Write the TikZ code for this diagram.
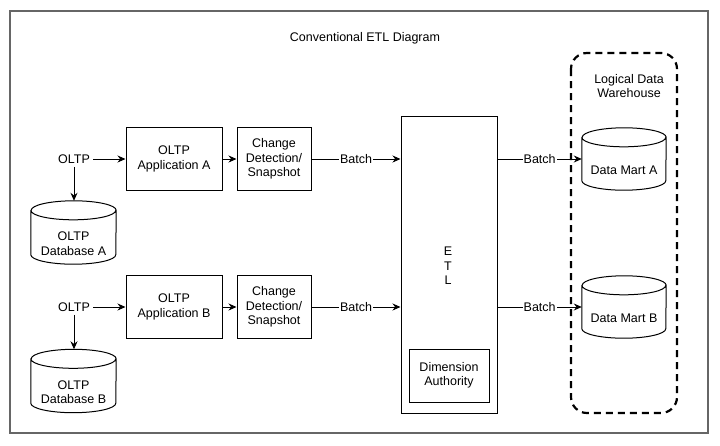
\documentclass[tikz,border=0pt]{standalone}
\usepackage{fontspec}
\setmainfont{Liberation Sans}
\usetikzlibrary{arrows.meta,positioning}

% cylinder outline round an (undrawn) rectangle node
\newcommand{\drawdb}[1]{%
  \draw[line width=1pt, fill=white]
    ([yshift=-9.5pt]#1.north west) -- ([yshift=9.5pt]#1.south west)
    arc[start angle=180, end angle=360, x radius=0.5*\dbw, y radius=9.5pt]
    -- ([yshift=-9.5pt]#1.north east)
    arc[start angle=0, end angle=180, x radius=0.5*\dbw, y radius=9.5pt] -- cycle
    ([yshift=-9.5pt]#1.north west)
    arc[start angle=180, end angle=360, x radius=0.5*\dbw, y radius=9.5pt];}
\newlength{\dbw}

\begin{document}
\begin{tikzpicture}[x=1pt, y=-1pt,
    font=\fontsize{12.5}{14.5}\selectfont,
    box/.style={draw, rectangle, line width=1pt, align=center, inner sep=2pt},
    db/.style={rectangle, minimum width=85pt, minimum height=63pt, inner sep=0pt},
    dbtext/.style={align=center, inner sep=0pt},
    arrow/.style={-{Stealth[length=8pt, width=7pt]}, line width=1pt},
    batch/.style={fill=white, inner sep=1pt}
]
    \useasboundingbox (0,0) rectangle (720,445);
    \draw[black!60, line width=1.5pt] (10,11) rectangle (708,433);
    \node (title) at (365,38) {Conventional ETL Diagram};

    % sources
    \setlength{\dbw}{85pt}
    \node (oltp_a) at (74,159) {OLTP};
    \node[box, minimum width=96pt, minimum height=63pt] (app_a) at (174,159) {OLTP\\Application A};
    \node[box, minimum width=74pt, minimum height=63pt] (cd_a) at (274,159) {Change\\Detection/\\Snapshot};
    \node[db] (db_a) at (73.5,232.5) {};
    \drawdb{db_a}
    \node[dbtext] (db_a_txt) at (73.5,243.5) {OLTP\\Database A};

    \node (oltp_b) at (74,307) {OLTP};
    \node[box, minimum width=96pt, minimum height=63pt] (app_b) at (174,307) {OLTP\\Application B};
    \node[box, minimum width=74pt, minimum height=63pt] (cd_b) at (274,307) {Change\\Detection/\\Snapshot};
    \node[db] (db_b) at (73.5,381) {};
    \drawdb{db_b}
    \node[dbtext] (db_b_txt) at (73.5,392) {OLTP\\Database B};

    % etl
    \node[box, minimum width=96pt, minimum height=297pt] (etl) at (449,264.5) {};
    \node[align=center, inner sep=0pt] (etl_txt) at (448,266) {E\\T\\L};
    \node[box, minimum width=80pt, minimum height=53pt] (dim) at (449,375.5) {Dimension\\Authority};

    % warehouse
    \draw[line width=2.2pt, dash pattern=on 7pt off 5pt, rounded corners=16pt] (571,53) rectangle (677,413);
    \node[align=center] (ldw) at (629,86) {Logical Data\\Warehouse};
    \setlength{\dbw}{84pt}
    \node[db, minimum width=84pt, minimum height=62pt] (dm_a) at (624,159) {};
    \drawdb{dm_a}
    \node[dbtext] (dm_a_txt) at (624,170) {Data Mart A};
    \node[db, minimum width=84pt, minimum height=62pt] (dm_b) at (624,307) {};
    \drawdb{dm_b}
    \node[dbtext] (dm_b_txt) at (624,318) {Data Mart B};

    % flows
    \draw[arrow] (oltp_a) -- (app_a);
    \draw[arrow] (app_a) -- (cd_a);
    \draw[arrow] (oltp_a) -- (db_a.north -| oltp_a);
    \draw[arrow] (cd_a) -- node[batch] {Batch} (cd_a -| etl.west);
    \draw[arrow] (oltp_b) -- (app_b);
    \draw[arrow] (app_b) -- (cd_b);
    \draw[arrow] (oltp_b) -- (db_b.north -| oltp_b);
    \draw[arrow] (cd_b) -- node[batch] {Batch} (cd_b -| etl.west);
    \draw[arrow] (etl.east |- dm_a) -- node[batch] {Batch} (dm_a.west);
    \draw[arrow] (etl.east |- dm_b) -- node[batch] {Batch} (dm_b.west);
\end{tikzpicture}
\end{document}
